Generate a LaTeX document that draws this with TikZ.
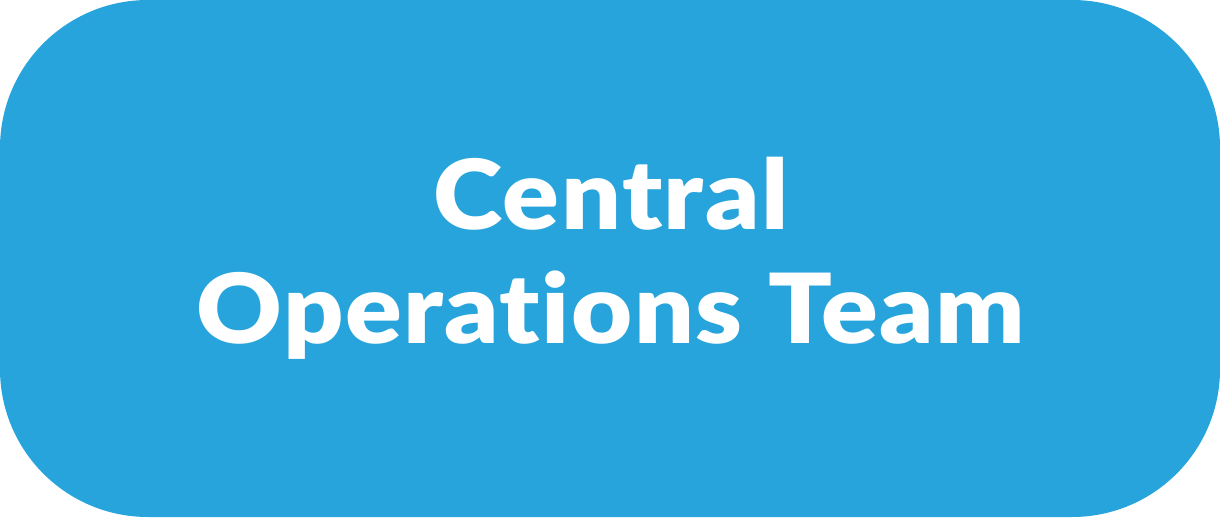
\documentclass[tikz,border=0pt]{standalone}
\usepackage{fontspec}
\setmainfont{Lato}[BoldFont={Lato Black}, BoldFeatures={FakeStretch=1.09, LetterSpace=1.5}, Ligatures=NoCommon]
\definecolor{boxblue}{HTML}{28A4DD}
\tikzset{teambox/.style={fill=boxblue, rounded corners=14.8mm},
  label text/.style={text=white, font=\fontsize{27.5}{32.5}\selectfont\bfseries, align=center, inner sep=0pt}}
\begin{document}
\begin{tikzpicture}[x=1mm,y=1mm]
\useasboundingbox (0,0) rectangle (122,51.7);
\fill[teambox] (0,0) rectangle (122,51.7);
\node[label text] (title) at (61.1,25.9) {Central\\Operations Team};
\end{tikzpicture}
\end{document}
